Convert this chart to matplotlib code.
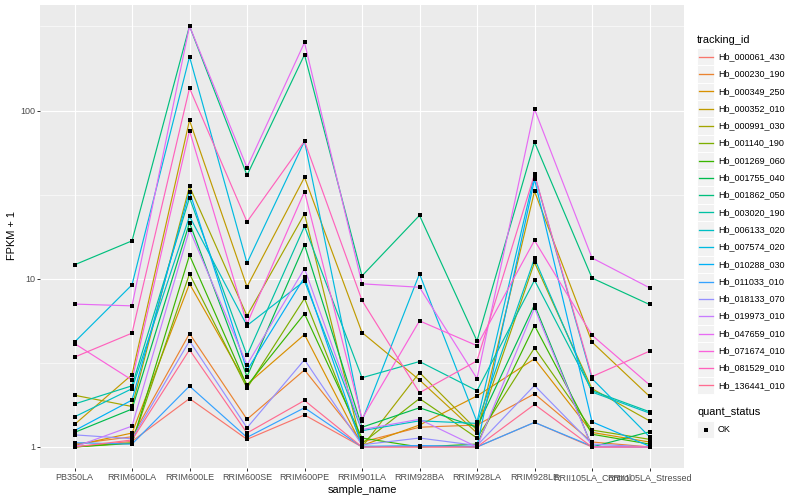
import matplotlib

matplotlib.use("Agg")

import matplotlib.pyplot as plt
import numpy as np
from matplotlib.patches import Rectangle
from matplotlib.ticker import NullFormatter

plt.rcParams["font.family"] = ["Liberation Sans", "DejaVu Sans"]

SAMPLES = [
    "PB350LA",
    "RRIM600LA",
    "RRIM600LE",
    "RRIM600SE",
    "RRIM600PE",
    "RRIM901LA",
    "RRIM928BA",
    "RRIM928LA",
    "RRIM928LE",
    "RRII105LA_Control",
    "RRII105LA_Stressed",
]

TRACKING_IDS = [
    "Hb_000061_430", "Hb_000230_190", "Hb_000349_250", "Hb_000352_010",
    "Hb_000991_030", "Hb_001140_190", "Hb_001269_060", "Hb_001755_040",
    "Hb_001862_050", "Hb_003020_190", "Hb_006133_020", "Hb_007574_020",
    "Hb_010288_030", "Hb_011033_010", "Hb_018133_070", "Hb_019973_010",
    "Hb_047659_010", "Hb_071674_010", "Hb_081529_010", "Hb_136441_010",
]

# ggplot2 default hue palette, 20 levels
COLORS = [
    "#F8766D", "#EA8331", "#D89000", "#C09B00", "#A3A500",
    "#7CAE00", "#39B600", "#00BB4E", "#00BF7D", "#00C1A3",
    "#00BFC4", "#00BAE0", "#00B0F6", "#35A2FF", "#9590FF",
    "#C77CFF", "#E76BF3", "#FA62DB", "#FF62BC", "#FF6C91",
]

# FPKM + 1 per sample (order of SAMPLES)
HB_000061_430 = [1.00, 1.08, 1.94, 1.11, 1.55, 1.00, 1.00, 1.00, 1.40, 1.00, 1.00]
HB_000230_190 = [1.04, 1.15, 4.72, 1.46, 2.87, 1.07, 1.31, 1.35, 2.07, 1.07, 1.00]
HB_000349_250 = [1.02, 1.21, 9.33, 2.35, 4.66, 1.02, 1.35, 2.01, 3.34, 1.22, 1.07]
HB_000352_010 = [1.36, 2.69, 87.5, 8.96, 40.1, 4.79, 2.50, 1.21, 33.1, 4.20, 2.00]
HB_000991_030 = [2.03, 1.74, 35.4, 6.02, 24.3, 1.00, 2.77, 1.26, 12.5, 2.22, 1.43]
HB_001140_190 = [1.00, 1.06, 10.7, 2.24, 7.64, 1.05, 1.94, 1.13, 3.88, 1.26, 1.11]
HB_001269_060 = [1.00, 1.05, 13.8, 2.31, 6.19, 1.13, 1.00, 1.04, 5.27, 1.19, 1.04]
HB_001755_040 = [1.22, 1.68, 21.5, 2.62, 15.9, 1.31, 1.71, 1.31, 7.00, 1.00, 1.23]
HB_001862_050 = [12.1, 16.8, 318.0, 41.2, 215.0, 10.4, 23.8, 4.27, 64.8, 10.1, 7.03]
HB_003020_190 = [1.80, 2.31, 30.3, 3.50, 20.5, 2.58, 3.22, 2.16, 9.80, 2.16, 1.62]
HB_006133_020 = [1.51, 2.22, 23.5, 5.27, 9.70, 1.25, 1.43, 1.38, 13.2, 2.12, 1.59]
HB_007574_020 = [4.20, 9.20, 209.0, 12.4, 65.7, 1.43, 10.7, 1.41, 41.5, 2.55, 1.15]
HB_010288_030 = [1.25, 1.90, 33.0, 2.85, 10.2, 1.01, 1.01, 1.01, 39.0, 1.41, 1.01]
HB_011033_010 = [1.06, 1.04, 2.30, 1.14, 1.71, 1.00, 1.02, 1.00, 1.40, 1.01, 1.00]
HB_018133_070 = [1.18, 1.12, 4.27, 1.30, 3.30, 1.03, 1.13, 1.02, 2.32, 1.04, 1.00]
HB_019973_010 = [1.00, 1.33, 19.6, 3.08, 11.5, 1.27, 1.46, 1.00, 6.70, 1.00, 1.00]
HB_047659_010 = [7.07, 6.90, 318.0, 45.8, 254.0, 9.33, 8.90, 2.55, 102.0, 13.3, 8.84]
HB_071674_010 = [4.12, 2.50, 76.0, 5.40, 33.0, 1.47, 5.62, 4.00, 16.9, 4.62, 2.34]
HB_081529_010 = [3.42, 4.75, 136.0, 21.8, 65.7, 7.43, 2.10, 3.25, 41.8, 2.62, 3.71]
HB_136441_010 = [1.00, 1.10, 3.78, 1.21, 1.89, 1.00, 1.00, 1.00, 1.79, 1.00, 1.00]

FPKM_PLUS_ONE = [
    HB_000061_430, HB_000230_190, HB_000349_250, HB_000352_010, HB_000991_030,
    HB_001140_190, HB_001269_060, HB_001755_040, HB_001862_050, HB_003020_190,
    HB_006133_020, HB_007574_020, HB_010288_030, HB_011033_010, HB_018133_070,
    HB_019973_010, HB_047659_010, HB_071674_010, HB_081529_010, HB_136441_010,
]

W, H = 800, 500
TICK_FS = 6.5
TITLE_FS = 7.9
POINT_MS = 2.7


def main():
    fig = plt.figure(figsize=(W / 100, H / 100), dpi=100, facecolor="white")

    # panel in pixel coords: x 40..684, y 5..468
    left, right, top, bottom = 40, 684, 5, 468
    ax = fig.add_axes([left / W, 1 - bottom / H, (right - left) / W, (bottom - top) / H])
    ax.set_facecolor("#EBEBEB")

    x = np.arange(len(SAMPLES))
    for vals, color in zip(FPKM_PLUS_ONE, COLORS):
        ax.plot(x, vals, color=color, lw=0.85, zorder=3, solid_joinstyle="round")
    for vals in FPKM_PLUS_ONE:
        ax.plot(x, vals, ls="none", marker="s", ms=POINT_MS, color="black", mew=0, zorder=4)

    ax.set_yscale("log")
    logs = np.log10(np.concatenate(FPKM_PLUS_ONE))
    lo, hi = logs.min(), logs.max()
    pad = 0.05 * (hi - lo)
    ax.set_ylim(10 ** (lo - pad), 10 ** (hi + pad))
    ax.set_xlim(-0.6, len(SAMPLES) - 0.4)

    ax.set_xticks(x)
    ax.set_xticklabels(SAMPLES)
    ax.set_yticks([1, 10, 100])
    ax.set_yticklabels(["1", "10", "100"])
    ax.set_yticks([10 ** 0.5, 10 ** 1.5, 10 ** 2.5], minor=True)
    ax.yaxis.set_minor_formatter(NullFormatter())
    ax.tick_params(which="minor", length=0)
    ax.tick_params(which="major", length=2.0, width=0.7, color="#333333",
                   labelsize=TICK_FS, labelcolor="#4D4D4D", pad=1.6)

    ax.grid(which="major", color="white", lw=0.8)
    ax.grid(which="minor", axis="y", color="white", lw=0.4)
    ax.set_axisbelow(True)
    for s in ax.spines.values():
        s.set_visible(False)

    fig.text((left + right) / 2 / W, 1 - 490 / H, "sample_name", fontsize=TITLE_FS,
             ha="center", va="center")
    fig.text(12 / W, 1 - 236 / H, "FPKM + 1", fontsize=TITLE_FS, rotation=90,
             ha="center", va="center")

    # legend, drawn in pixel coordinates
    lax = fig.add_axes([0, 0, 1, 1], facecolor="none")
    lax.set_xlim(0, W)
    lax.set_ylim(H, 0)
    lax.set_axis_off()

    lax.text(697, 40, "tracking_id", fontsize=TITLE_FS, ha="left", va="center")
    key = 17.3
    y0 = 56.7
    for i, (name, color) in enumerate(zip(TRACKING_IDS, COLORS)):
        yc = y0 + key * i
        lax.add_patch(Rectangle((697, yc - key / 2), key, key, fc="#F2F2F2", ec="white", lw=0.7))
        lax.plot([698.7, 713.3], [yc, yc], color=color, lw=0.95)
        lax.text(718, yc, name, fontsize=TICK_FS, ha="left", va="center")

    lax.text(697, 412, "quant_status", fontsize=TITLE_FS, ha="left", va="center")
    yc = 429.5
    lax.add_patch(Rectangle((697, yc - key / 2), key, key, fc="#F2F2F2", ec="white", lw=0.7))
    lax.plot([705.6], [yc], ls="none", marker="s", ms=POINT_MS, color="black", mew=0)
    lax.text(718, yc, "OK", fontsize=TICK_FS, ha="left", va="center")

    fig.savefig("out.png", dpi=100, facecolor="white")
    plt.close(fig)


if __name__ == "__main__":
    main()
